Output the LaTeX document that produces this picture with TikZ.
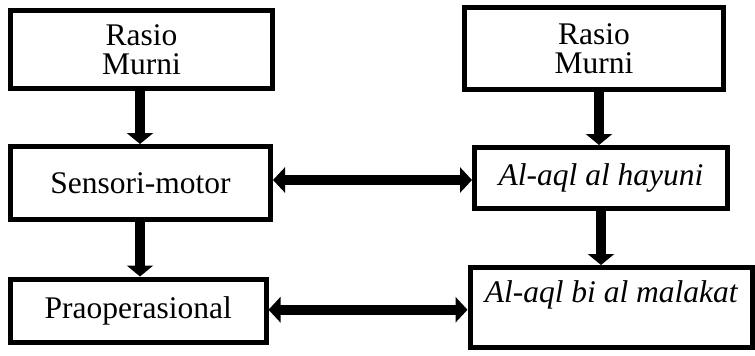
\documentclass[tikz,border=0pt]{standalone}
\usepackage{fontspec}
\setmainfont{Liberation Serif}
\usetikzlibrary{arrows.meta}
\begin{document}
\begin{tikzpicture}[x=1pt,y=-1pt,
  box/.style={draw,line width=5pt,rectangle,inner sep=0pt,align=center,
    font=\fontsize{31.5}{29}\selectfont},
  varr/.style={line width=10pt,-{Triangle[width=26pt,length=11pt]}},
  harr/.style={line width=10pt,{Triangle[width=25pt,length=12pt]}-{Triangle[width=25pt,length=12pt]}}]
\useasboundingbox (0,0) rectangle (755,356);
\node[box,minimum width=262pt,minimum height=78pt] (B1) at (141.5,49.5) {Rasio\\Murni};
\node[box,minimum width=260pt,minimum height=73pt] (B2) at (140.5,183) {Sensori-motor};
\node[box,minimum width=255.5pt,minimum height=63.5pt] (B3) at (138.25,310.75) {Praoperasional};
\node[box,minimum width=259pt,minimum height=82pt] (B4) at (594,48.5) {Rasio\\Murni};
\node[box,minimum width=253pt,minimum height=61pt,font=\fontsize{31.5}{29}\selectfont\itshape] (B5) at (601,178) {Al-aql al hayuni};
\node[box,minimum width=282.5pt,minimum height=80pt,text height=22pt,text depth=33pt,font=\fontsize{31.5}{29}\selectfont\itshape] (B6) at (611.25,307.5) {Al-aql bi al malakat};
\draw[varr] ([xshift=-1.5pt]B1.south) -- ([xshift=-1.5pt]B1.south |- B2.north);
\draw[varr] ([xshift=-0.5pt]B2.south) -- ([xshift=-0.5pt]B2.south |- B3.north);
\draw[varr] ([xshift=5pt]B4.south) -- ([xshift=5pt]B4.south |- B5.north);
\draw[varr] (B5.south) -- (B5.south |- B6.north);
\draw[harr] ([yshift=3pt]B2.east) -- ([yshift=3pt]B2.east -| B5.west);
\draw[harr] ([yshift=1pt]B3.east) -- ([yshift=1pt]B3.east -| B6.west);
\end{tikzpicture}
\end{document}
